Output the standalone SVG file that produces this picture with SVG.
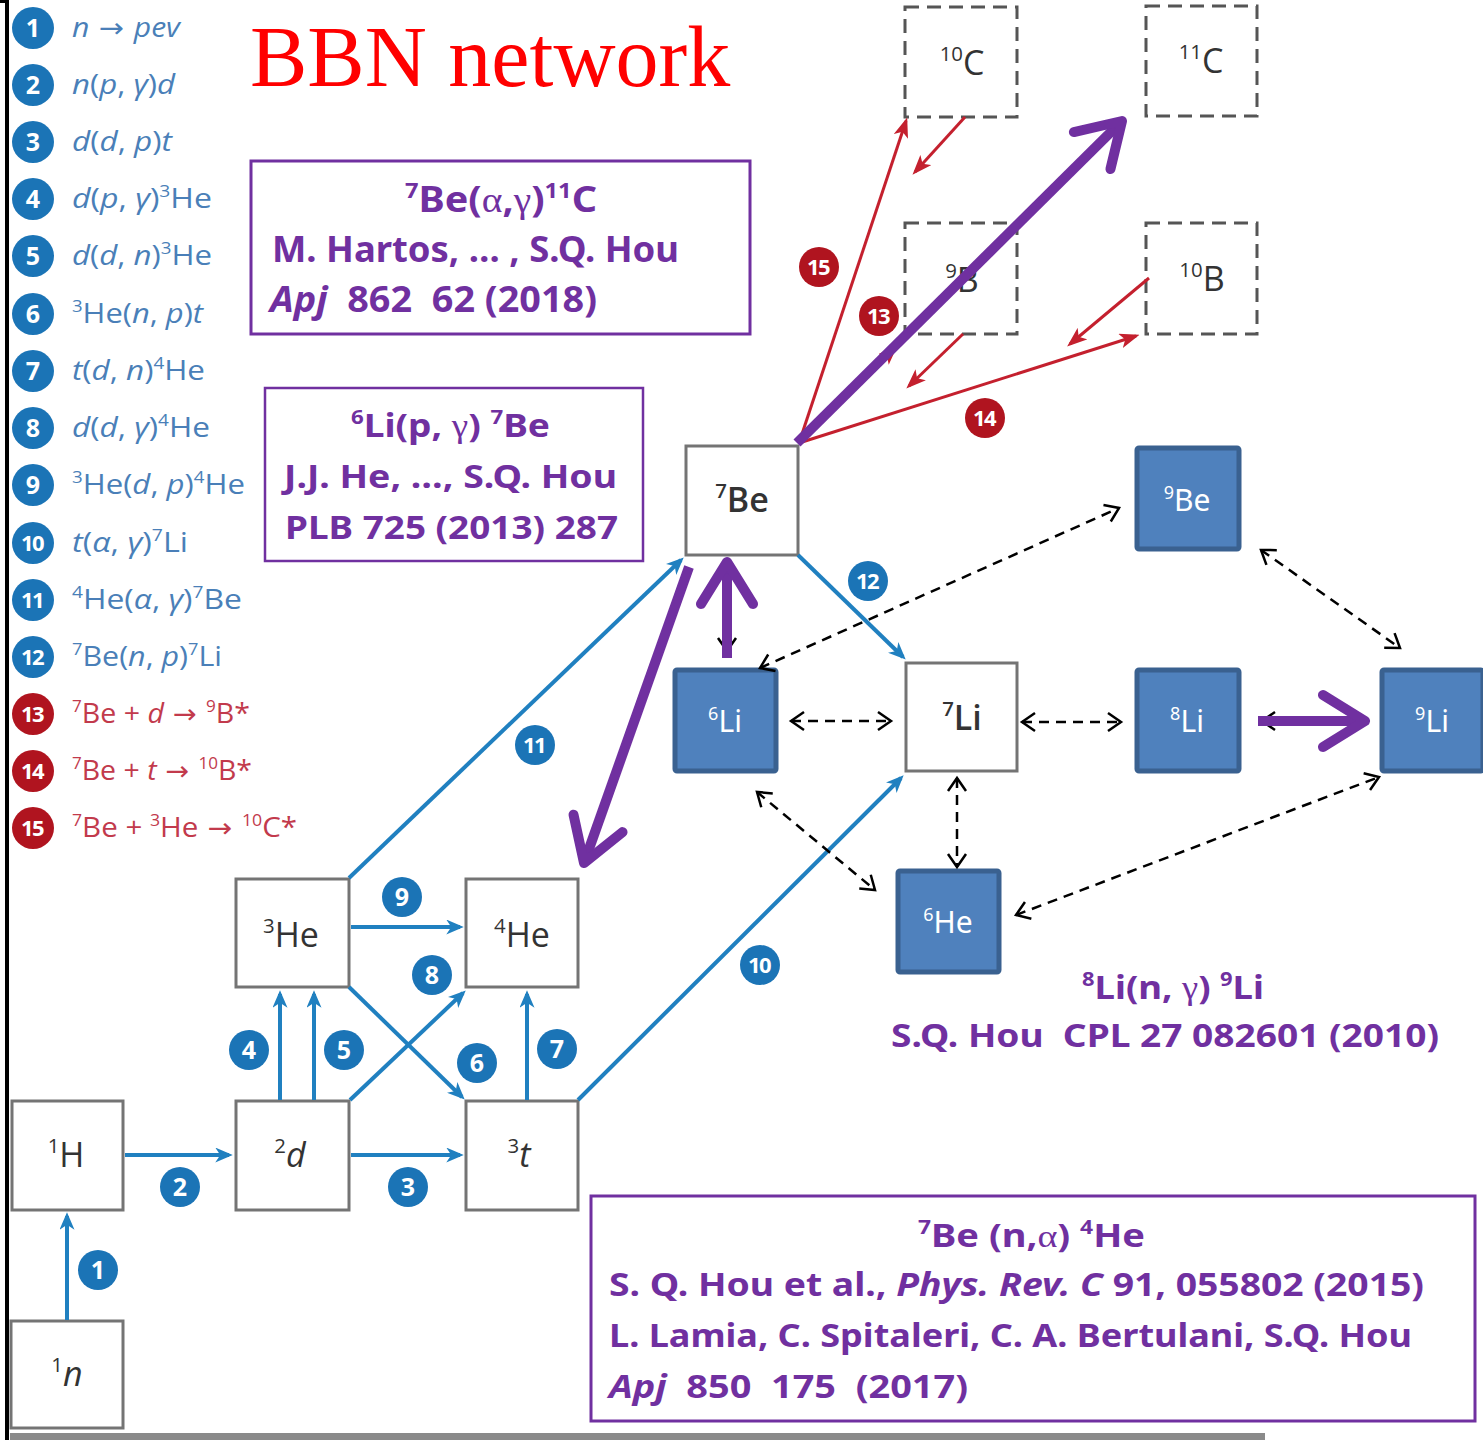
<svg xmlns="http://www.w3.org/2000/svg" width="1483" height="1440" viewBox="0 0 1483 1440">
  <style>
    .frame { fill: #000; }
    .box { fill: #fff; stroke: #747474; stroke-width: 3; }
    .dbox { fill: #fff; stroke: #555; stroke-width: 3; stroke-dasharray: 14 8; }
    .bbox { fill: #4f81bd; stroke: #3a6190; stroke-width: 5; }
    .ntxt { font-family: "Open Sans", "Noto Sans", sans-serif; font-size: 34px; fill: #333; text-anchor: middle; }
    .btxt { font-family: "Noto Sans", "Open Sans", sans-serif; font-size: 30px; fill: #fff; text-anchor: middle; }
    .sup { font-size: 60%; baseline-shift: super; }
    .i { font-style: italic; }
    .g { font-family: "Liberation Serif", serif; font-weight: 400; }
    .arr { font-family: "DejaVu Sans", sans-serif; }
    .leg { font-family: "Open Sans", "Noto Sans", sans-serif; font-size: 27px; }
    .legb { fill: #4a7fb8; }
    .legr { fill: #c23a4c; }
    .cb { fill: #1b74b6; }
    .cr { fill: #b0141f; }
    .lc { r: 21px; }
    .cnum { font-family: "Open Sans", "Noto Sans", sans-serif; font-weight: 700; font-size: 25px; fill: #fff; text-anchor: middle; }
    .cnum2 { font-family: "Open Sans", "Noto Sans", sans-serif; font-weight: 700; font-size: 22px; fill: #fff; text-anchor: middle; letter-spacing: -1.5px; }
    .ref { fill: none; stroke: #7030a0; }
    .rtxt { font-family: "Noto Sans", "Open Sans", sans-serif; font-weight: 700; fill: #7030a0; white-space: pre; }
    .blue { fill: none; stroke: #2080c0; stroke-width: 4; marker-end: url(#hBlue); }
    .red { fill: none; stroke: #c4202e; stroke-width: 3; marker-end: url(#hRed); }
    .purple { fill: none; stroke: #7030a0; stroke-width: 10; marker-end: url(#hPurple); }
    .dash { fill: none; stroke: #000; stroke-width: 2.5; stroke-dasharray: 10 7; marker-start: url(#hDash); marker-end: url(#hDash); }
  </style>
  <defs>
    <marker id="hBlue" viewBox="0 0 14 12" refX="11" refY="6" markerWidth="18" markerHeight="15" markerUnits="userSpaceOnUse" orient="auto">
      <path d="M0,0 L14,6 L0,12 L4,6z" fill="#2080c0"/>
    </marker>
    <marker id="hRed" viewBox="0 0 16 12" refX="13" refY="6" markerWidth="20" markerHeight="15" markerUnits="userSpaceOnUse" orient="auto">
      <path d="M0,0 L16,6 L0,12 L4,6z" fill="#c4202e"/>
    </marker>
    <marker id="hPurple" viewBox="-52 -32 58 64" refX="0" refY="0" markerWidth="58" markerHeight="64" markerUnits="userSpaceOnUse" orient="auto">
      <path d="M-42,-26 L0,0 L-42,26" fill="none" stroke="#7030a0" stroke-width="10" stroke-linecap="round" stroke-linejoin="round"/>
    </marker>
    <marker id="hDash" viewBox="-18 -12 22 24" refX="0" refY="0" markerWidth="22" markerHeight="24" markerUnits="userSpaceOnUse" orient="auto-start-reverse">
      <path d="M-13,-9 L0,0 L-13,9" fill="none" stroke="#000" stroke-width="2.5"/>
    </marker>
  </defs>

  <rect width="1483" height="1440" fill="#fff"/>

  <!-- page frame -->
  <g id="frame">
    <rect class="frame" x="5" y="0" width="4" height="1440"/>
    <rect class="frame" x="0" y="0" width="9" height="3"/>
    <rect x="10" y="1433" width="1255" height="7" fill="#8a8a8a"/>
  </g>

  <!-- title -->
  <text x="250" y="86" font-family="Liberation Serif, serif" font-size="86" fill="#ff0000">BBN network</text>

  <!-- reaction legend -->
  <g id="legend">
    <circle class="cb" cx="33" cy="28" r="21"/><text class="cnum" x="33" y="37">1</text>
    <text class="leg legb" x="72" y="37" textLength="108" lengthAdjust="spacingAndGlyphs"><tspan class="i">n</tspan><tspan class="arr"> → </tspan><tspan class="i">pev</tspan></text>
    <circle class="cb" cx="33" cy="85" r="21"/><text class="cnum" x="33" y="94">2</text>
    <text class="leg legb" x="72" y="94" textLength="103" lengthAdjust="spacingAndGlyphs"><tspan class="i">n</tspan>(<tspan class="i">p</tspan>, <tspan class="i">γ</tspan>)<tspan class="i">d</tspan></text>
    <circle class="cb" cx="33" cy="142" r="21"/><text class="cnum" x="33" y="151">3</text>
    <text class="leg legb" x="72" y="151" textLength="100" lengthAdjust="spacingAndGlyphs"><tspan class="i">d</tspan>(<tspan class="i">d</tspan>, <tspan class="i">p</tspan>)<tspan class="i">t</tspan></text>
    <circle class="cb" cx="33" cy="199" r="21"/><text class="cnum" x="33" y="208">4</text>
    <text class="leg legb" x="72" y="208" textLength="140" lengthAdjust="spacingAndGlyphs"><tspan class="i">d</tspan>(<tspan class="i">p</tspan>, <tspan class="i">γ</tspan>)<tspan class="sup">3</tspan>He</text>
    <circle class="cb" cx="33" cy="256" r="21"/><text class="cnum" x="33" y="265">5</text>
    <text class="leg legb" x="72" y="265" textLength="140" lengthAdjust="spacingAndGlyphs"><tspan class="i">d</tspan>(<tspan class="i">d</tspan>, <tspan class="i">n</tspan>)<tspan class="sup">3</tspan>He</text>
    <circle class="cb" cx="33" cy="314" r="21"/><text class="cnum" x="33" y="323">6</text>
    <text class="leg legb" x="72" y="323" textLength="131" lengthAdjust="spacingAndGlyphs"><tspan class="sup">3</tspan>He(<tspan class="i">n</tspan>, <tspan class="i">p</tspan>)<tspan class="i">t</tspan></text>
    <circle class="cb" cx="33" cy="371" r="21"/><text class="cnum" x="33" y="380">7</text>
    <text class="leg legb" x="72" y="380" textLength="133" lengthAdjust="spacingAndGlyphs"><tspan class="i">t</tspan>(<tspan class="i">d</tspan>, <tspan class="i">n</tspan>)<tspan class="sup">4</tspan>He</text>
    <circle class="cb" cx="33" cy="428" r="21"/><text class="cnum" x="33" y="437">8</text>
    <text class="leg legb" x="72" y="437" textLength="138" lengthAdjust="spacingAndGlyphs"><tspan class="i">d</tspan>(<tspan class="i">d</tspan>, <tspan class="i">γ</tspan>)<tspan class="sup">4</tspan>He</text>
    <circle class="cb" cx="33" cy="485" r="21"/><text class="cnum" x="33" y="494">9</text>
    <text class="leg legb" x="72" y="494" textLength="173" lengthAdjust="spacingAndGlyphs"><tspan class="sup">3</tspan>He(<tspan class="i">d</tspan>, <tspan class="i">p</tspan>)<tspan class="sup">4</tspan>He</text>
    <circle class="cb" cx="33" cy="543" r="21"/><text class="cnum2" x="32" y="551">10</text>
    <text class="leg legb" x="72" y="552" textLength="116" lengthAdjust="spacingAndGlyphs"><tspan class="i">t</tspan>(<tspan class="i">α</tspan>, <tspan class="i">γ</tspan>)<tspan class="sup">7</tspan>Li</text>
    <circle class="cb" cx="33" cy="600" r="21"/><text class="cnum2" x="32" y="608">11</text>
    <text class="leg legb" x="72" y="609" textLength="170" lengthAdjust="spacingAndGlyphs"><tspan class="sup">4</tspan>He(<tspan class="i">α</tspan>, <tspan class="i">γ</tspan>)<tspan class="sup">7</tspan>Be</text>
    <circle class="cb" cx="33" cy="657" r="21"/><text class="cnum2" x="32" y="665">12</text>
    <text class="leg legb" x="72" y="666" textLength="150" lengthAdjust="spacingAndGlyphs"><tspan class="sup">7</tspan>Be(<tspan class="i">n</tspan>, <tspan class="i">p</tspan>)<tspan class="sup">7</tspan>Li</text>
    <circle class="cr" cx="33" cy="714" r="21"/><text class="cnum2" x="32" y="722">13</text>
    <text class="leg legr" x="72" y="723" textLength="178" lengthAdjust="spacingAndGlyphs"><tspan class="sup">7</tspan>Be + <tspan class="i">d</tspan><tspan class="arr"> → </tspan><tspan class="sup">9</tspan>B*</text>
    <circle class="cr" cx="33" cy="771" r="21"/><text class="cnum2" x="32" y="779">14</text>
    <text class="leg legr" x="72" y="780" textLength="180" lengthAdjust="spacingAndGlyphs"><tspan class="sup">7</tspan>Be + <tspan class="i">t</tspan><tspan class="arr"> → </tspan><tspan class="sup">10</tspan>B*</text>
    <circle class="cr" cx="33" cy="828" r="21"/><text class="cnum2" x="32" y="836">15</text>
    <text class="leg legr" x="72" y="837" textLength="225" lengthAdjust="spacingAndGlyphs"><tspan class="sup">7</tspan>Be + <tspan class="sup">3</tspan>He<tspan class="arr"> → </tspan><tspan class="sup">10</tspan>C*</text>
  </g>

  <!-- reference boxes -->
  <g id="ref-7Be-11C">
    <rect class="ref" x="251" y="161" width="499" height="173" stroke-width="3"/>
    <text class="rtxt" x="405" y="212" font-size="36" textLength="192" lengthAdjust="spacingAndGlyphs"><tspan class="sup">7</tspan>Be(<tspan class="g">α</tspan>,<tspan class="g">γ</tspan>)<tspan class="sup">11</tspan>C</text>
    <text class="rtxt" x="272" y="262" font-size="36" textLength="407" lengthAdjust="spacingAndGlyphs">M. Hartos, … , S.Q. Hou</text>
    <text class="rtxt" x="270" y="312" font-size="36" textLength="327" lengthAdjust="spacingAndGlyphs" xml:space="preserve"><tspan class="i">Apj</tspan>  862  62 (2018)</text>
  </g>
  <g id="ref-6Li-7Be">
    <rect class="ref" x="265" y="388" width="378" height="173" stroke-width="2.5"/>
    <text class="rtxt" x="351" y="437" font-size="33" textLength="199" lengthAdjust="spacingAndGlyphs"><tspan class="sup">6</tspan>Li(p, <tspan class="g">γ</tspan>) <tspan class="sup">7</tspan>Be</text>
    <text class="rtxt" x="284" y="488" font-size="33" textLength="333" lengthAdjust="spacingAndGlyphs">J.J. He, …, S.Q. Hou</text>
    <text class="rtxt" x="285" y="539" font-size="33" textLength="333" lengthAdjust="spacingAndGlyphs">PLB 725 (2013) 287</text>
  </g>
  <g id="ref-8Li-9Li">
    <text class="rtxt" x="1082" y="999" font-size="33" textLength="182" lengthAdjust="spacingAndGlyphs"><tspan class="sup">8</tspan>Li(n, <tspan class="g">γ</tspan>) <tspan class="sup">9</tspan>Li</text>
    <text class="rtxt" x="891" y="1047" font-size="33" textLength="548" lengthAdjust="spacingAndGlyphs" xml:space="preserve">S.Q. Hou  CPL 27 082601 (2010)</text>
  </g>
  <g id="ref-7Be-4He">
    <rect class="ref" x="591" y="1196" width="884" height="225" stroke-width="3"/>
    <text class="rtxt" x="918" y="1247" font-size="32" textLength="227" lengthAdjust="spacingAndGlyphs"><tspan class="sup">7</tspan>Be (n,<tspan class="g">α</tspan>) <tspan class="sup">4</tspan>He</text>
    <text class="rtxt" x="609" y="1296" font-size="32" textLength="815" lengthAdjust="spacingAndGlyphs">S. Q. Hou et al., <tspan class="i">Phys. Rev. C</tspan> 91, 055802 (2015)</text>
    <text class="rtxt" x="609" y="1347" font-size="32" textLength="803" lengthAdjust="spacingAndGlyphs">L. Lamia, C. Spitaleri, C. A. Bertulani, S.Q. Hou</text>
    <text class="rtxt" x="609" y="1398" font-size="32" textLength="359" lengthAdjust="spacingAndGlyphs" xml:space="preserve"><tspan class="i">Apj</tspan>  850  175  (2017)</text>
  </g>

  <!-- nuclide nodes -->
  <g id="n1">
    <rect class="box" x="11" y="1321" width="112" height="107"/>
    <text class="ntxt" x="67" y="1386"><tspan class="sup">1</tspan><tspan class="i">n</tspan></text>
  </g>
  <g id="H1">
    <rect class="box" x="12" y="1101" width="111" height="109"/>
    <text class="ntxt" x="66" y="1167"><tspan class="sup">1</tspan>H</text>
  </g>
  <g id="d2">
    <rect class="box" x="236" y="1101" width="113" height="109"/>
    <text class="ntxt" x="290" y="1167"><tspan class="sup">2</tspan><tspan class="i">d</tspan></text>
  </g>
  <g id="t3">
    <rect class="box" x="466" y="1101" width="112" height="109"/>
    <text class="ntxt" x="519" y="1167"><tspan class="sup">3</tspan><tspan class="i">t</tspan></text>
  </g>
  <g id="He3">
    <rect class="box" x="236" y="879" width="113" height="108"/>
    <text class="ntxt" x="291" y="947"><tspan class="sup">3</tspan>He</text>
  </g>
  <g id="He4">
    <rect class="box" x="466" y="879" width="112" height="108"/>
    <text class="ntxt" x="522" y="947"><tspan class="sup">4</tspan>He</text>
  </g>
  <g id="Be7">
    <rect class="box" x="686" y="446" width="112" height="109"/>
    <text class="ntxt" x="742" y="512" font-weight="600"><tspan class="sup">7</tspan>Be</text>
  </g>
  <g id="Li7">
    <rect class="box" x="906" y="663" width="111" height="108"/>
    <text class="ntxt" x="962" y="730" font-weight="600"><tspan class="sup">7</tspan>Li</text>
  </g>
  <g id="C10">
    <rect class="dbox" x="905" y="7" width="112" height="110"/>
    <text class="ntxt" x="962" y="75"><tspan class="sup">10</tspan>C</text>
  </g>
  <g id="C11">
    <rect class="dbox" x="1146" y="6" width="111" height="110"/>
    <text class="ntxt" x="1201" y="73"><tspan class="sup">11</tspan>C</text>
  </g>
  <g id="B9">
    <rect class="dbox" x="905" y="223" width="112" height="111"/>
    <text class="ntxt" x="962" y="292"><tspan class="sup">9</tspan>B</text>
  </g>
  <g id="B10">
    <rect class="dbox" x="1146" y="223" width="111" height="111"/>
    <text class="ntxt" x="1202" y="291"><tspan class="sup">10</tspan>B</text>
  </g>
  <g id="Be9">
    <rect class="bbox" x="1137" y="448" width="102" height="101" rx="2"/>
    <text class="btxt" x="1187" y="511"><tspan class="sup">9</tspan>Be</text>
  </g>
  <g id="Li6">
    <rect class="bbox" x="675" y="670" width="101" height="101" rx="2"/>
    <text class="btxt" x="725" y="732"><tspan class="sup">6</tspan>Li</text>
  </g>
  <g id="Li8">
    <rect class="bbox" x="1137" y="670" width="102" height="101" rx="2"/>
    <text class="btxt" x="1187" y="732"><tspan class="sup">8</tspan>Li</text>
  </g>
  <g id="Li9">
    <rect class="bbox" x="1382" y="670" width="101" height="101" rx="2"/>
    <text class="btxt" x="1432" y="732"><tspan class="sup">9</tspan>Li</text>
  </g>
  <g id="He6">
    <rect class="bbox" x="898" y="871" width="101" height="101" rx="2"/>
    <text class="btxt" x="948" y="933"><tspan class="sup">6</tspan>He</text>
  </g>

  <!-- reaction connectors -->
  <g id="connectors">
    <!-- primordial chain -->
    <path class="blue" d="M67,1320 V1216"/>
    <path class="blue" d="M125,1155 H229"/>
    <path class="blue" d="M351,1155 H460"/>
    <path class="blue" d="M280,1100 V994"/>
    <path class="blue" d="M314,1100 V994"/>
    <path class="blue" d="M527,1100 V994"/>
    <path class="blue" d="M351,927 H460"/>
    <path class="blue" d="M350,1100 L463,993"/>
    <path class="blue" d="M349,987 L462,1097"/>
    <path class="blue" d="M578,1100 L901,778"/>
    <path class="blue" d="M349,878 L681,560"/>
    <path class="blue" d="M798,555 L903,657"/>

    <!-- 7Be burning -->
    <path class="red" d="M799,443 L906,121"/>
    <path class="red" d="M965,117 L915,172"/>
    <path class="red" d="M799,443 L895,348"/>
    <path class="red" d="M963,334 L909,386"/>
    <path class="red" d="M799,443 L1136,336"/>
    <path class="red" d="M1149,278 L1070,344"/>

    <!-- links between light nuclides -->
    <path class="dash" d="M760,668 L1119,508"/>
    <path class="dash" d="M791,721 H891"/>
    <path class="dash" d="M1022,722 H1121"/>
    <path class="dash" d="M1261,550 L1400,648"/>
    <path class="dash" d="M757,792 L875,890"/>
    <path class="dash" d="M957,778 V867"/>
    <path class="dash" d="M1016,915 L1379,777"/>
    <path class="dash" d="M727,560 V651"/>
    <path class="dash" d="M1262,721 H1368"/>

    <!-- measured reactions -->
    <path class="purple" d="M797,443 L1122,121"/>
    <path class="purple" d="M689,567 L584,863"/>
    <path class="purple" d="M727,658 V562"/>
    <path class="purple" d="M1258,721 H1365" stroke-width="11"/>

    <!-- reaction numbers -->
    <circle class="cb" cx="98" cy="1270" r="20"/><text class="cnum" x="98" y="1279">1</text>
    <circle class="cb" cx="180" cy="1187" r="20"/><text class="cnum" x="180" y="1196">2</text>
    <circle class="cb" cx="408" cy="1187" r="20"/><text class="cnum" x="408" y="1196">3</text>
    <circle class="cb" cx="249" cy="1050" r="20"/><text class="cnum" x="249" y="1059">4</text>
    <circle class="cb" cx="344" cy="1050" r="20"/><text class="cnum" x="344" y="1059">5</text>
    <circle class="cb" cx="477" cy="1063" r="20"/><text class="cnum" x="477" y="1072">6</text>
    <circle class="cb" cx="557" cy="1049" r="20"/><text class="cnum" x="557" y="1058">7</text>
    <circle class="cb" cx="432" cy="975" r="20"/><text class="cnum" x="432" y="984">8</text>
    <circle class="cb" cx="402" cy="897" r="20"/><text class="cnum" x="402" y="906">9</text>
    <circle class="cb" cx="760" cy="965" r="20"/><text class="cnum2" x="759" y="973">10</text>
    <circle class="cb" cx="535" cy="745" r="20"/><text class="cnum2" x="534" y="753">11</text>
    <circle class="cb" cx="868" cy="581" r="20"/><text class="cnum2" x="867" y="589">12</text>
    <circle class="cr" cx="879" cy="316" r="20"/><text class="cnum2" x="878" y="324">13</text>
    <circle class="cr" cx="985" cy="418" r="20"/><text class="cnum2" x="984" y="426">14</text>
    <circle class="cr" cx="819" cy="267" r="20"/><text class="cnum2" x="818" y="275">15</text>
  </g>
</svg>
